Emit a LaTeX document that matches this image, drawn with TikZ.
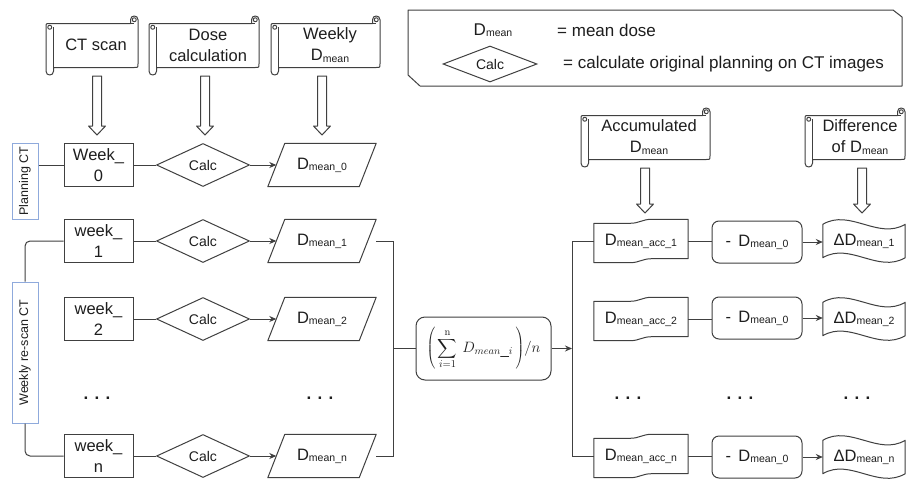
\RequirePackage{fix-cm}
\documentclass[tikz,border=0pt]{standalone}
\usepackage[no-math]{fontspec}
\setmainfont{Liberation Sans}
\usetikzlibrary{shapes.geometric,arrows.meta,calc}
\definecolor{ln}{RGB}{64,64,64}
\definecolor{bl}{RGB}{143,170,220}
\definecolor{tx}{RGB}{30,30,30}
\newcommand{\Dm}[1]{D{\fontsize{10.5}{10.5}\selectfont\raisebox{-1.2pt}{#1}}}
\newcommand{\bigsum}{\mathop{\vcenter{\hbox{\scalebox{1.35}{$\displaystyle\sum$}}}}\limits}
% scroll outline: L T R B
\newcommand{\scrollshape}[4]{%
  \draw[shp] (#1,#2+11.25) .. controls (#1,#2+7.5) .. (#1+3.75,#2+7.5)
    -- (#3-7.5,#2+7.5) -- (#3-7.5,#2+3.75)
    .. controls (#3-7.5,#2-1.25) and (#3,#2-1.25) .. (#3,#2+3.75)
    -- (#3,#4-11.25) .. controls (#3,#4-7.5) .. (#3-3.75,#4-7.5)
    -- (#1+7.5,#4-7.5) -- (#1+7.5,#4-3.75)
    .. controls (#1+7.5,#4+1.25) and (#1,#4+1.25) .. (#1,#4-3.75) -- cycle;
  \draw[shp] (#1+7.5,#2+11.25) -- (#1+7.5,#4-7.5);
  \draw[shp] (#1+3.75,#2+11.25) circle[radius=2pt];
  \draw[shp] (#3-7.5,#2+7.5) -- (#3-3.75,#2+7.5);
  \draw[shp] (#3-3.75,#2+3.75) circle[radius=2pt];
}
% block arrow: x y1 y2
\newcommand{\blockarrow}[3]{%
  \draw[shp] (#1-4.5,#2) -- (#1+4.5,#2) -- (#1+4.5,#3-9) -- (#1+8.5,#3-9)
    -- (#1,#3) -- (#1-8.5,#3-9) -- (#1-4.5,#3-9) -- cycle;
}
% parallelogram around node
\newcommand{\paral}[1]{%
  \draw[shp] (#1.south west) -- ($(#1.north west)+(17,0)$) -- (#1.north east)
    -- ($(#1.south east)+(-17,0)$) -- cycle;
}
% accumulated tape shape
\newcommand{\accshape}[1]{%
  \draw[shp] ($(#1.north west)+(0,4)$) -- ($(#1.north west)+(36,4)$)
    .. controls ($(#1.north west)+(46,4)$) and ($(#1.north west)+(48,0)$) .. ($(#1.north west)+(58,0)$)
    -- (#1.north east) -- ($(#1.south east)+(0,-4)$) -- ($(#1.south west)+(58,-4)$)
    .. controls ($(#1.south west)+(48,-4)$) and ($(#1.south west)+(46,0)$) .. ($(#1.south west)+(36,0)$)
    -- (#1.south west) -- cycle;
}
% wave shape
\newcommand{\waveshape}[1]{%
  \draw[shp] ($(#1.north west)+(0,5)$)
    .. controls ($(#1.north west)+(27,-11)$) and ($(#1.north east)+(-27,21)$) .. ($(#1.north east)+(0,5)$)
    -- ($(#1.south east)+(0,-5)$)
    .. controls ($(#1.south east)+(-27,11)$) and ($(#1.south west)+(27,-21)$) .. ($(#1.south west)+(0,-5)$)
    -- cycle;
}
\tikzset{
  shp/.style={draw=ln, line width=1pt, line join=round},
  conn/.style={draw=ln, line width=1pt},
  arr/.style={conn, -{Stealth[length=7pt,width=6pt]}},
  lbl/.style={font=\fontsize{16.5}{21}\selectfont, align=center, text=tx, inner sep=0pt},
  wk/.style={draw=ln, line width=1pt, minimum width=69pt, minimum height=43pt, inner sep=0pt,
    align=center, text=tx, font=\fontsize{16.5}{21}\selectfont},
  calcd/.style={diamond, aspect=2, draw=ln, line width=1pt, minimum width=93pt, minimum height=43pt,
    inner sep=0pt, text=tx, font=\fontsize{14}{16}\selectfont},
  hold/.style={minimum width=108pt, minimum height=43pt, inner sep=0pt, text=tx,
    font=\fontsize{16.5}{20}\selectfont},
  acc/.style={minimum width=94pt, minimum height=43pt, inner sep=0pt, text=tx,
    font=\fontsize{16.5}{20}\selectfont},
  dlt/.style={minimum width=82pt, minimum height=43pt, inner sep=0pt, text=tx,
    font=\fontsize{16.5}{20}\selectfont},
  minus/.style={draw=ln, line width=1pt, rounded corners=7pt, minimum width=90pt, minimum height=42pt,
    inner sep=0pt, text=tx, font=\fontsize{16.5}{20}\selectfont},
  side/.style={draw=bl, line width=1pt, rotate=90, inner sep=0pt, minimum height=26pt, text=tx,
    font=\fontsize{12.5}{14}\selectfont},
  dotsn/.style={font=\fontsize{17}{17}\selectfont\bfseries, text=tx, inner sep=0pt},
}
\begin{document}
\begin{tikzpicture}[x=1pt,y=-1pt]
\useasboundingbox[fill=white] (0,0) rectangle (907,479);

% legend
\draw[shp] (408,10) -- (893,10) -- (902,17) -- (902,86) -- (420,86) -- (408,75) -- cycle;
\node[lbl, font=\fontsize{17}{20}\selectfont] (lgd) at (493,30) {\Dm{mean}};
\node[lbl, font=\fontsize{17}{20}\selectfont, anchor=west] (lgdt) at (557,30) {= mean dose};
\node[calcd, minimum width=94pt, minimum height=36pt] (lgc) at (490,64) {Calc};
\node[lbl, font=\fontsize{17}{20}\selectfont, anchor=west] (lgct) at (563,64) {= calculate original planning on CT images};

% top scrolls
\scrollshape{46}{16}{138}{75}
\node[lbl] (s1) at (96,45) {CT scan};
\scrollshape{149}{16}{259}{75}
\node[lbl] (s2) at (208,45) {Dose\\calculation};
\scrollshape{271}{16}{380}{75}
\node[lbl] (s3) at (330,45) {Weekly\\\Dm{mean}};
\scrollshape{581}{108}{710}{167}
\node[lbl] (s4) at (649,137) {Accumulated\\\Dm{mean}};
\scrollshape{805}{108}{905}{167}
\node[lbl] (s5) at (860,137) {Difference\\of \Dm{mean}};

\blockarrow{97}{76}{135}
\blockarrow{205}{76}{135}
\blockarrow{322}{76}{135}
\blockarrow{645}{168}{213}
\blockarrow{862}{168}{213}

% left column
\node[wk] (w0) at (98.5,165) {Week\_\\0};
\node[wk] (w1) at (98.5,241) {week\_\\1};
\node[wk] (w2) at (98.5,319) {week\_\\2};
\node[wk] (wn) at (98.5,456) {week\_\\n};

\node[calcd] (c0) at (203,165) {Calc};
\node[calcd] (c1) at (203,241) {Calc};
\node[calcd] (c2) at (203,319) {Calc};
\node[calcd] (cn) at (203,456) {Calc};

\node[hold] (d0) at (322,165) {\Dm{mean\_0}};
\node[hold] (d1) at (322,241) {\Dm{mean\_1}};
\node[hold] (d2) at (322,319) {\Dm{mean\_2}};
\node[hold] (dn) at (322,456) {\Dm{mean\_n}};
\paral{d0}\paral{d1}\paral{d2}\paral{dn}

\foreach \r in {0,1,2,n}{
  \draw[conn] (w\r.east) -- (c\r.west);
  \draw[arr] (c\r.east) -- ($(d\r.west)+(8.5,0)$);
}

\node[dotsn] (dl) at (97,398) {. . .};
\node[dotsn] (dm) at (320,398) {. . .};

% side labels
\node[side, minimum width=76pt] (plan) at (25,181) {Planning CT};
\node[side, minimum width=141pt] (resc) at (25,352.5) {Weekly re-scan CT};
\draw[conn] (w0.west -| plan.south) -- (w0.west);
\draw[conn, rounded corners=5pt] (resc.east) |- (w1.west);
\draw[conn, rounded corners=5pt] (resc.west) |- (wn.west);

% formula
\node[draw=ln, line width=1pt, rounded corners=9pt, minimum width=135pt, minimum height=63pt,
  inner sep=0pt, text=tx, font=\fontsize{15}{17}\selectfont] (f) at (483.5,348.5)
  {$\displaystyle\left(\,\bigsum_{i=1}^{\mathrm{n}}\, D_{mean\_i}\,\right)\!/n$};
\coordinate (lbt) at ($(d1.east)+(17,0)$);
\draw[conn] (d1.east) -- (lbt) |- (dn.east);
\draw[conn] (f.west -| lbt) -- (f.west);

% right column
\node[acc] (a1) at (641,241) {\Dm{mean\_acc\_1}};
\node[acc] (a2) at (641,319) {\Dm{mean\_acc\_2}};
\node[acc] (an) at (641,456) {\Dm{mean\_acc\_n}};
\accshape{a1}\accshape{a2}\accshape{an}

\node[minus] (m1) at (757,242) {-\, \Dm{mean\_0}};
\node[minus] (m2) at (757,318) {-\, \Dm{mean\_0}};
\node[minus] (mn) at (757,457) {-\, \Dm{mean\_0}};

\node[dlt] (e1) at (864,241) {ΔD{\fontsize{10.5}{10.5}\selectfont\raisebox{-1.2pt}{mean\_1}}};
\node[dlt] (e2) at (864,319) {ΔD{\fontsize{10.5}{10.5}\selectfont\raisebox{-1.2pt}{mean\_2}}};
\node[dlt] (en) at (864,457) {ΔD{\fontsize{10.5}{10.5}\selectfont\raisebox{-1.2pt}{mean\_n}}};
\waveshape{e1}\waveshape{e2}\waveshape{en}

\foreach \r in {1,2,n}{
  \draw[conn] (a\r.east) -- (a\r.east -| m\r.west);
  \draw[arr] (m\r.east) -- (m\r.east -| e\r.west);
}

\coordinate (rbt) at (572,241);
\draw[conn] (a1.west) -- (rbt) |- (an.west);
\draw[arr] (f.east) -- (f.east -| rbt);

\node[dotsn] (dr1) at (628,398) {. . .};
\node[dotsn] (dr2) at (740,398) {. . .};
\node[dotsn] (dr3) at (857,398) {. . .};
\end{tikzpicture}
\end{document}
